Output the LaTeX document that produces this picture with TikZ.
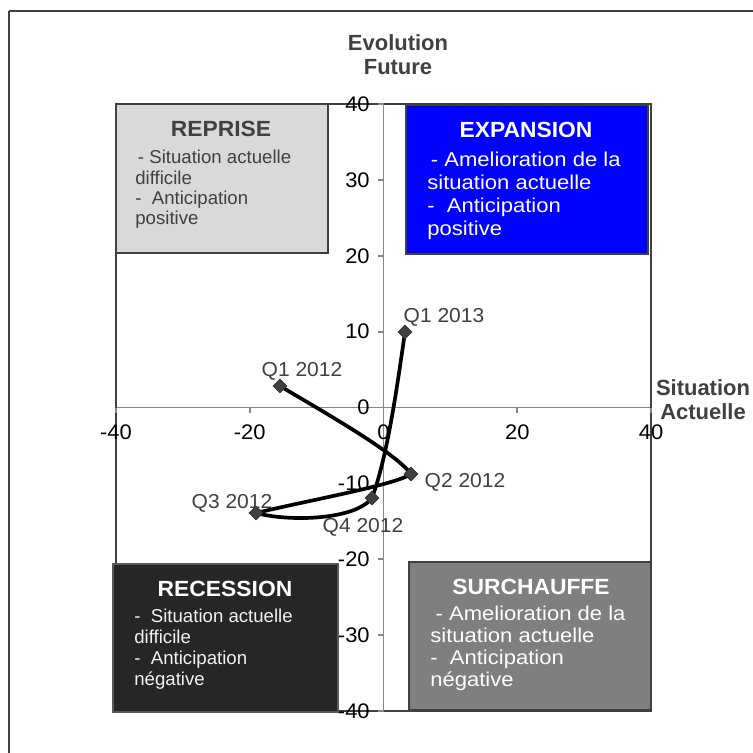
\documentclass[tikz,border=0pt]{standalone}
\usepackage{fontspec}
\setmainfont{Liberation Sans}
\newfontfamily\fa[FakeStretch=1.1]{Liberation Sans}
\newfontfamily\fb[FakeStretch=1.04]{Liberation Sans}
\usetikzlibrary{shapes.geometric}
\definecolor{dk}{HTML}{404040}
\definecolor{ax}{HTML}{868686}
\definecolor{lg}{HTML}{D9D9D9}
\definecolor{rc}{HTML}{262626}
\definecolor{rcb}{HTML}{595959}
\definecolor{sc}{HTML}{7F7F7F}
\tikzset{
  frameline/.style={draw=dk},
  axisline/.style={draw=ax, line width=1.1pt},
  boxst/.style={line width=1.2pt},
  ticklab/.style={font=\fb\fontsize{12}{14}\selectfont, text=black, inner sep=0pt},
  axtitle/.style={font=\bfseries\fontsize{12.5}{13.6}\selectfont, text=dk, align=center, inner sep=0pt},
  boxtitle/.style={font=\fb\bfseries\fontsize{12.5}{14}\selectfont, inner sep=0pt},
  datalab/.style={font=\fb\fontsize{11.5}{13}\selectfont, text=dk, inner sep=0pt},
  pt/.style={diamond, fill=dk, draw=black!80, line width=0.4pt, minimum size=0.28cm, inner sep=0pt},
  curve/.style={draw=black, line width=2.1pt}
}
\begin{document}
\begin{tikzpicture}[x=0.02cm,y=-0.02cm]
\useasboundingbox (0,0) rectangle (753,753);
% outer frame
\coordinate (fA) at (9,753);
\coordinate (fB) at (9,11);
\coordinate (fC) at (753,11);
\draw[frameline, line width=1.7pt] (fA) -- (fB);
\draw[frameline, line width=0.8pt] (fB) -- (fC);
% plot area
\coordinate (pTL) at (116,104);
\coordinate (pBR) at (651,711);
\draw[axisline] (383.5,104) coordinate (vT) -- (383.5,711) coordinate (vB);
\draw[axisline] (116,407.5) coordinate (hL) -- (651,407.5) coordinate (hR);
\draw[draw=dk, line width=1.1pt] (pTL) rectangle (pBR);
% y ticks
\foreach \i in {0,...,8}{
  \pgfmathsetmacro\yy{104+\i*75.875}
  \pgfmathtruncatemacro\vv{40-10*\i}
  \draw[ax, line width=1pt] (378,\yy) coordinate (yt\i) -- (383.5,\yy);
  \node[ticklab, anchor=east] (yl\i) at (370,\yy) {\vv};
}
% x ticks
\foreach \i in {0,...,4}{
  \pgfmathsetmacro\xx{116+\i*133.75}
  \pgfmathtruncatemacro\vv{-40+20*\i}
  \draw[ax, line width=1pt] (\xx,407.5) coordinate (xt\i) -- (\xx,413);
  \node[ticklab] (xl\i) at (\xx,432) {\vv};
}
% quadrant boxes
\draw[boxst, draw=dk, fill=lg] (116,104) rectangle (328,253);
\draw[boxst, draw=dk, fill=blue] (406,105) rectangle (648,254);
\draw[boxst, draw=rcb, fill=rc] (113,564) rectangle (338,712);
\draw[boxst, draw=dk, fill=sc] (409,562) rectangle (651,710);
% box titles
\node[boxtitle, text=dk] (tRep) at (221,129) {REPRISE};
\node[boxtitle, text=white] (tExp) at (526,130) {EXPANSION};
\node[boxtitle, text=white] (tRec) at (225,589) {RECESSION};
\node[boxtitle, text=white] (tSur) at (531,587) {SURCHAUFFE};
% box bodies
\node[anchor=north west, inner sep=0pt, align=left, text=dk,
  font=\fontsize{10.6}{11.6}\selectfont] (bRep) at (135,150)
  {\hspace*{1.5pt}- Situation actuelle\\difficile\\-\ \ Anticipation\\positive};
\node[anchor=north west, inner sep=0pt, align=left, text=white,
  font=\fa\fontsize{11.4}{13}\selectfont] (bExp) at (427,152)
  {\hspace*{2pt}- Amelioration de la\\situation actuelle\\-\ \ Anticipation\\positive};
\node[anchor=north west, inner sep=0pt, align=left, text=white!95!black,
  font=\fontsize{10.6}{11.8}\selectfont] (bRec) at (134,609)
  {-\ \ Situation actuelle\\difficile\\-\ \ Anticipation\\négative};
\node[anchor=north west, inner sep=0pt, align=left, text=white,
  font=\fa\fontsize{11.4}{12.4}\selectfont] (bSur) at (430,606)
  {\hspace*{3pt}- Amelioration de la\\situation actuelle\\-\ \ Anticipation\\négative};
% axis titles
\node[axtitle] (tY) at (398,55) {Evolution\\Future};
\node[axtitle] (tX) at (703,400) {Situation\\Actuelle};
% data labels
\node[datalab] (l1) at (302,371) {Q1 2012};
\node[datalab] (l2) at (465,482) {Q2 2012};
\node[datalab] (l3) at (232,503) {Q3 2012};
\node[datalab] (l4) at (363,527) {Q4 2012};
\node[datalab] (l5) at (444,317) {Q1 2013};
% data points
\coordinate (p0) at (280,386);
\coordinate (p1) at (411,474);
\coordinate (p2) at (256,513);
\coordinate (p3) at (372,498);
\coordinate (p4) at (405,332);
\draw[curve] (p0) .. controls (320,410) and (395,452) .. (p1)
  .. controls (395,485) and (310,500) .. (p2)
  .. controls (290,522) and (355,520) .. (p3)
  .. controls (388,455) and (398,380) .. (p4);
\node[pt] (d0) at (p0) {};
\node[pt] (d1) at (p1) {};
\node[pt] (d2) at (p2) {};
\node[pt] (d3) at (p3) {};
\node[pt] (d4) at (p4) {};
\end{tikzpicture}
\end{document}
